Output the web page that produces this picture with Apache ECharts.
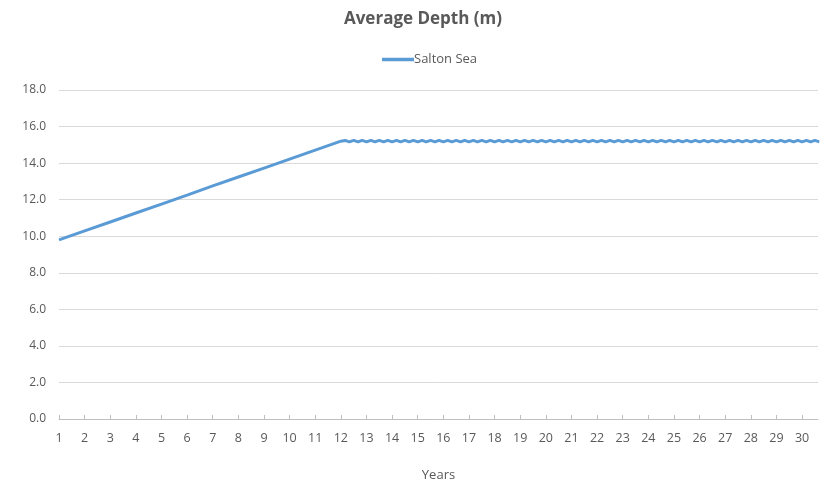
<!DOCTYPE html>
<html>
<head>
<meta charset="utf-8">
<script src="https://cdn.jsdelivr.net/npm/echarts@6/dist/echarts.min.js"></script>
<style>html,body{margin:0;padding:0;background:#fff}#c{width:820px;height:482px}</style>
</head>
<body>
<div id="c"></div>
<script>
var seriesName = 'Salton Sea';
var chartTitle = 'Average Depth (m)';
var xAxisName = 'Years';
var yearTicks = [1,2,3,4,5,6,7,8,9,10,11,12,13,14,15,16,17,18,19,20,21,22,23,24,25,26,27,28,29,30];
var years = [
  1,2,3,4,5,6,7,8,9,10,11,12,
  12.17,12.33,12.5,12.67,12.83,13,
  13.17,13.33,13.5,13.67,13.83,14,
  14.17,14.33,14.5,14.67,14.83,15,
  15.17,15.33,15.5,15.67,15.83,16,
  16.17,16.33,16.5,16.67,16.83,17,
  17.17,17.33,17.5,17.67,17.83,18,
  18.17,18.33,18.5,18.67,18.83,19,
  19.17,19.33,19.5,19.67,19.83,20,
  20.17,20.33,20.5,20.67,20.83,21,
  21.17,21.33,21.5,21.67,21.83,22,
  22.17,22.33,22.5,22.67,22.83,23,
  23.17,23.33,23.5,23.67,23.83,24,
  24.17,24.33,24.5,24.67,24.83,25,
  25.17,25.33,25.5,25.67,25.83,26,
  26.17,26.33,26.5,26.67,26.83,27,
  27.17,27.33,27.5,27.67,27.83,28,
  28.17,28.33,28.5,28.67,28.83,29,
  29.17,29.33,29.5,29.67,29.83,30,
  30.17,30.33,30.5,30.67
];
var depth = [
  9.80,10.29,10.78,11.27,11.76,12.25,12.75,13.24,13.73,14.22,14.71,15.20,
  15.24,15.16,15.24,15.16,15.24,15.16,
  15.24,15.16,15.24,15.16,15.24,15.16,
  15.24,15.16,15.24,15.16,15.24,15.16,
  15.24,15.16,15.24,15.16,15.24,15.16,
  15.24,15.16,15.24,15.16,15.24,15.16,
  15.24,15.16,15.24,15.16,15.24,15.16,
  15.24,15.16,15.24,15.16,15.24,15.16,
  15.24,15.16,15.24,15.16,15.24,15.16,
  15.24,15.16,15.24,15.16,15.24,15.16,
  15.24,15.16,15.24,15.16,15.24,15.16,
  15.24,15.16,15.24,15.16,15.24,15.16,
  15.24,15.16,15.24,15.16,15.24,15.16,
  15.24,15.16,15.24,15.16,15.24,15.16,
  15.24,15.16,15.24,15.16,15.24,15.16,
  15.24,15.16,15.24,15.16,15.24,15.16,
  15.24,15.16,15.24,15.16,15.24,15.16,
  15.24,15.16,15.24,15.16,15.24,15.16,
  15.24,15.16,15.24,15.16,15.24,15.16,
  15.24,15.16,15.24,15.16
];

var pts = years.map(function(x, i){ return [x, depth[i]]; });
var font = '"Open Sans", "Noto Sans", sans-serif';
var gray = '#595959';
var chart = echarts.init(document.getElementById('c'), null, {renderer: 'canvas'});
chart.setOption({
  animation: false,
  backgroundColor: '#ffffff',
  title: {
    text: chartTitle,
    left: 418, top: 6, textAlign: 'center',
    textStyle: {fontFamily: font, fontSize: 17, fontWeight: 'bold', color: gray}
  },
  legend: {
    data: [seriesName],
    left: 377, top: 48,
    icon: 'rect', itemWidth: 32, itemHeight: 3.5, itemGap: 10,
    textStyle: {fontFamily: font, fontSize: 13, color: gray, padding: [0,0,0,-5]}
  },
  grid: {left: 59, right: 2, top: 90, bottom: 63, containLabel: false, outerBoundsMode: 'none'},
  xAxis: {
    type: 'value', min: 1, max: 30.62, interval: 1,
    name: xAxisName, nameLocation: 'middle', nameGap: 50,
    nameTextStyle: {fontFamily: font, fontSize: 13, color: gray},
    axisLine: {show: true, lineStyle: {color: '#bfbfbf', width: 1}},
    axisTick: {show: true, inside: true, length: 4, lineStyle: {color: '#bfbfbf'}, customValues: yearTicks},
    axisLabel: {fontFamily: font, fontSize: 12.5, color: gray, margin: 13, customValues: yearTicks},
    splitLine: {show: false}
  },
  yAxis: {
    type: 'value', min: 0, max: 18, interval: 2,
    axisLine: {show: false}, axisTick: {show: false},
    axisLabel: {fontFamily: font, fontSize: 12, color: gray, margin: 13,
      formatter: function(v){ return v.toFixed(1); }},
    splitLine: {lineStyle: {color: '#d9d9d9', width: 1}}
  },
  series: [{
    name: seriesName, type: 'line', data: pts,
    showSymbol: false, symbol: 'none',
    lineStyle: {color: '#5b9bd5', width: 3},
    itemStyle: {color: '#5b9bd5'}
  }]
});
</script>
</body>
</html>
